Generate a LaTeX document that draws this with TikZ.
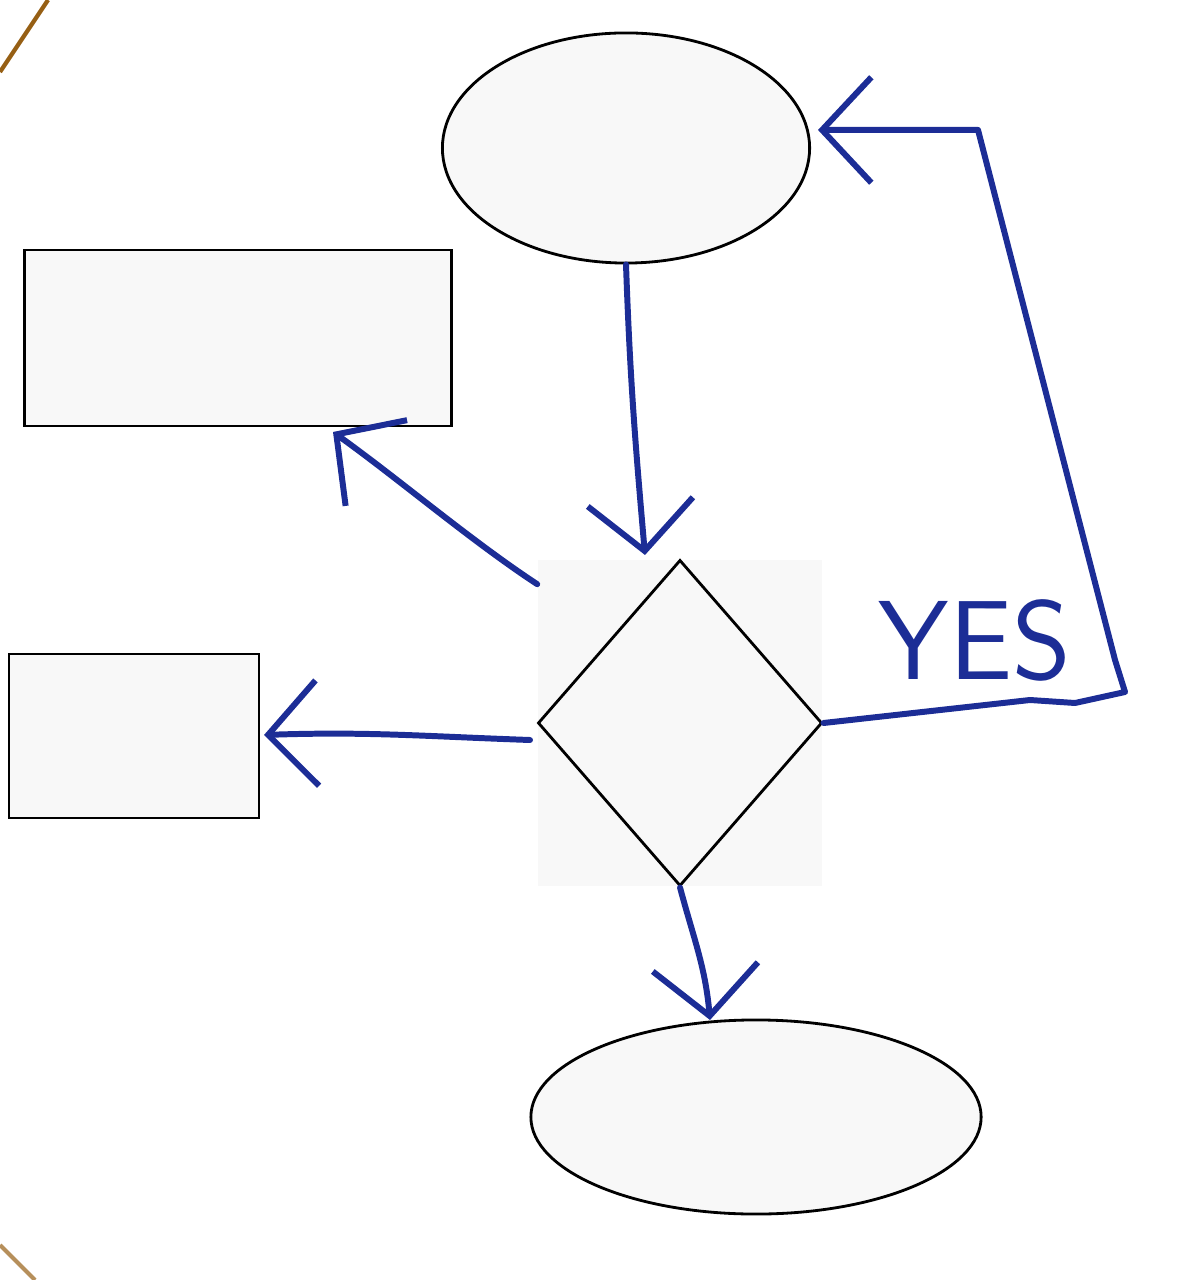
\documentclass[tikz,border=0pt]{standalone}
\usepackage{tikz}
\usepackage{xcolor}
\usetikzlibrary{shapes.geometric,arrows.meta}

\definecolor{shapefill}{RGB}{248,248,248}
\definecolor{penblue}{RGB}{28,45,150}
\definecolor{edgebrown}{RGB}{150,95,20}

\tikzset{
  box/.style={draw=black, thick, fill=shapefill, inner sep=0pt},
  oval/.style={ellipse, draw=black, thick, fill=shapefill, inner sep=0pt},
  flow/.style={penblue, line width=1.7pt, line cap=round, line join=round,
    -{Straight Barb[length=14pt,width=30pt,line width=1.7pt]}},
}

\begin{document}
\begin{tikzpicture}[x=0.01cm,y=-0.01cm]
  \useasboundingbox (0,0) rectangle (1190,1280);

  % Photo corner edges
  \draw[edgebrown, line width=1.2pt] (0,72) -- (48,0);
  \draw[edgebrown!70, line width=1.2pt] (0,1245) -- (35,1280);

  % Start and end ovals
  \node[oval, minimum width=3.67cm, minimum height=2.3cm] (start) at (626,148) {};
  \node[oval, minimum width=4.5cm, minimum height=1.94cm] (finish) at (756,1117) {};

  % Process boxes
  \node[box, minimum width=4.26cm, minimum height=1.76cm] (procA) at (238,338) {};
  \node[box, minimum width=2.5cm, minimum height=1.64cm] (procB) at (134,736) {};

  % Decision diamond on its pale square
  \node[fill=shapefill, minimum width=2.84cm, minimum height=3.26cm,
    inner sep=0pt] (decbg) at (680,723) {};
  \node[diamond, draw=black, thick, fill=shapefill, inner sep=0pt,
    minimum width=2.84cm, minimum height=3.26cm] (decide) at (680,723) {};

  % Hand-drawn ends
  \coordinate (startin) at (645,555);
  \coordinate (procAin) at (333,432);
  \coordinate (decleft) at (530,740);
  \coordinate (procBin) at (264,735);
  \coordinate (finishin) at (710,1020);
  \coordinate (startright) at (818,130);

  % Connectors
  \draw[flow] (start.south) to[out=-88,in=95] (startin);
  \draw[flow] (decbg.north west) ++(0,25) .. controls (470,540) and (400,480) .. (procAin);
  \draw[flow] (decleft) to[out=178,in=2] (procBin);
  \draw[flow] (decide.south) to[out=-75,in=95] (finishin);
  \draw[flow] (decide.east) -- (1030,700) -- (1075,703) -- (1125,692)
    -- (1115,660) -- (978,130) -- (startright);

  % Branch label
  \node[penblue, font=\fontsize{32}{32}\selectfont\sffamily] (yes) at (975,640) {YES};

\end{tikzpicture}
\end{document}
